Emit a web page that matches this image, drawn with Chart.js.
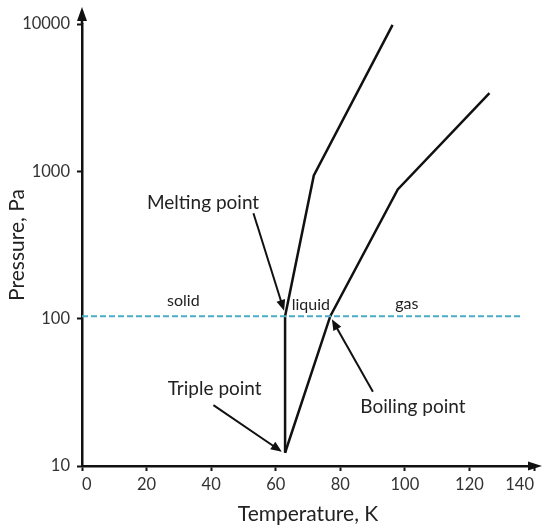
<!DOCTYPE html>
<html>
<head>
<meta charset="utf-8">
<script src="https://cdn.jsdelivr.net/npm/chart.js@4.4.1/dist/chart.umd.min.js"></script>
<style>
  html, body { margin: 0; padding: 0; background: #fff; }
  canvas { display: block; }
</style>
</head>
<body>
<canvas id="phase" width="543" height="527"></canvas>
<script>
// phase diagram data (temperature in K, pressure in Pa)
const meltT = [62.9, 62.9, 71.8, 96.2];
const meltP = [12.3, 104, 937, 9860];
const boilT = [62.9, 76.9, 97.8, 126.2];
const boilP = [12.3, 104, 753, 3390];
const lineT = [0, 136];
const lineP = [104, 104];

const xTicks = [0, 20, 40, 60, 80, 100, 120, 140];
const yTicks = [10, 100, 1000, 10000];

const labelText = ['Melting point', 'Triple point', 'Boiling point', 'solid', 'liquid', 'gas'];
const labelT = [37.5, 41.1, 102.5, 31.4, 70.9, 100.6];
const labelP = [610, 33.3, 25.1, 132, 124, 127];

// annotation arrows: start (T,P) -> tip (T,P)
const arrowFromT = [53.1, 40.7, 90.1];
const arrowFromP = [520, 25.9, 31.9];
const arrowToT = [62.6, 61.9, 77.4];
const arrowToP = [113, 12.5, 99];

const FONT = 'Lato, "Open Sans", sans-serif';

function toPoints(xs, ys) {
    return xs.map((x, i) => ({ x: x, y: ys[i] }));
}

function arrowHead(ctx, x1, y1, x2, y2, len, wid) {
    const a = Math.atan2(y2 - y1, x2 - x1);
    ctx.beginPath();
    ctx.moveTo(x2, y2);
    ctx.lineTo(x2 - len * Math.cos(a) + wid / 2 * Math.sin(a), y2 - len * Math.sin(a) - wid / 2 * Math.cos(a));
    ctx.lineTo(x2 - len * Math.cos(a) - wid / 2 * Math.sin(a), y2 - len * Math.sin(a) + wid / 2 * Math.cos(a));
    ctx.closePath();
    ctx.fill();
}

const annotations = {
    id: 'annotations',
    afterDraw(chart) {
        const { ctx, chartArea, scales } = chart;
        const xs = scales.x, ys = scales.y;
        ctx.save();
        ctx.strokeStyle = '#111';
        ctx.fillStyle = '#111';
        ctx.lineWidth = 2.5;

        // axis arrows
        ctx.beginPath();
        ctx.moveTo(chartArea.left, chartArea.top);
        ctx.lineTo(chartArea.left, 14);
        ctx.stroke();
        arrowHead(ctx, chartArea.left, 30, chartArea.left, 7, 14, 10);
        ctx.beginPath();
        ctx.moveTo(chartArea.right, chartArea.bottom);
        ctx.lineTo(535, chartArea.bottom);
        ctx.stroke();
        arrowHead(ctx, 520, chartArea.bottom, 542, chartArea.bottom, 14, 9);

        // pointer arrows
        ctx.lineWidth = 2;
        for (let i = 0; i < arrowFromT.length; i++) {
            const x1 = xs.getPixelForValue(arrowFromT[i]);
            const y1 = ys.getPixelForValue(arrowFromP[i]);
            const x2 = xs.getPixelForValue(arrowToT[i]);
            const y2 = ys.getPixelForValue(arrowToP[i]);
            const a = Math.atan2(y2 - y1, x2 - x1);
            ctx.beginPath();
            ctx.moveTo(x1, y1);
            ctx.lineTo(x2 - 8 * Math.cos(a), y2 - 8 * Math.sin(a));
            ctx.stroke();
            arrowHead(ctx, x1, y1, x2, y2, 11, 9);
        }

        // text labels
        ctx.fillStyle = '#222';
        ctx.textAlign = 'center';
        ctx.textBaseline = 'middle';
        for (let i = 0; i < labelText.length; i++) {
            ctx.font = (i < 3 ? '19px ' : '16px ') + FONT;
            ctx.fillText(labelText[i], xs.getPixelForValue(labelT[i]), ys.getPixelForValue(labelP[i]));
        }
        ctx.restore();
    }
};

new Chart(document.getElementById('phase'), {
    type: 'line',
    data: {
        datasets: [
            {
                data: toPoints(lineT, lineP),
                borderColor: '#4BACC6',
                borderWidth: 2,
                borderDash: [6, 3],
                pointRadius: 0
            },
            {
                data: toPoints(meltT, meltP),
                borderColor: '#111',
                borderWidth: 2.5,
                pointRadius: 0
            },
            {
                data: toPoints(boilT, boilP),
                borderColor: '#111',
                borderWidth: 2.5,
                pointRadius: 0
            }
        ]
    },
    options: {
        responsive: false,
        animation: false,
        devicePixelRatio: 1,
        layout: { padding: { left: 0, top: 24, right: 9, bottom: 0 } },
        plugins: { legend: { display: false }, tooltip: { enabled: false } },
        scales: {
            x: {
                type: 'linear',
                min: 0,
                max: 140,
                afterBuildTicks(scale) { scale.ticks = xTicks.map(v => ({ value: v })); },
                afterFit(scale) { scale.height = 61; scale.paddingRight = 0; },
                grid: { drawOnChartArea: false, tickLength: 5, tickWidth: 2, tickColor: '#111' },
                border: { color: '#111', width: 2.5 },
                ticks: { color: '#333', padding: 4, maxRotation: 0, align: 'inner', font: { family: FONT, size: 16.5 } },
                title: { display: true, text: 'Temperature, K', color: '#222', padding: { top: 0, bottom: 0 }, font: { family: FONT, size: 21 } }
            },
            y: {
                type: 'logarithmic',
                min: 10,
                max: 10000,
                afterBuildTicks(scale) { scale.ticks = yTicks.map(v => ({ value: v })); },
                afterFit(scale) { scale.width = 82; },
                grid: { drawOnChartArea: false, tickLength: 5, tickWidth: 2, tickColor: '#111' },
                border: { color: '#111', width: 2.5 },
                ticks: { color: '#333', padding: 7, font: { family: FONT, size: 16.5 }, callback: v => String(v) },
                title: { display: true, text: 'Pressure, Pa', color: '#222', padding: { top: 5, bottom: 0 }, font: { family: FONT, size: 21 } }
            }
        }
    },
    plugins: [annotations]
});
</script>
</body>
</html>
